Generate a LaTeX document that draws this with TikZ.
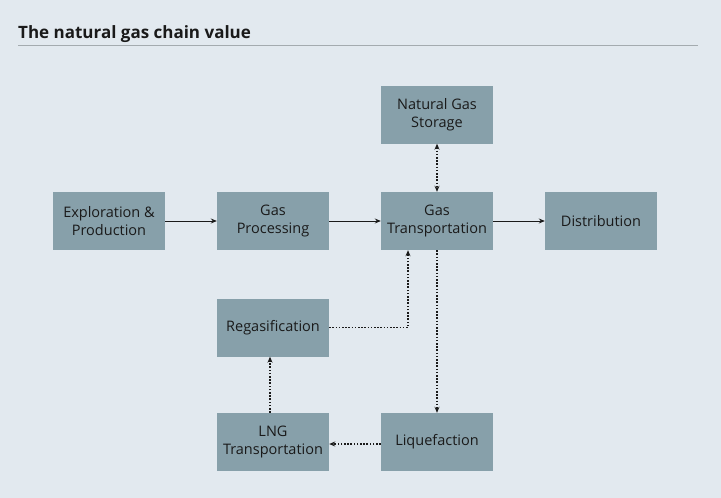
\documentclass[tikz,border=0pt]{standalone}
\usepackage{fontspec}
\setmainfont{Open Sans}
\usetikzlibrary{arrows.meta}

\definecolor{bgcol}{HTML}{E2E9EF}
\definecolor{boxcol}{HTML}{87A0AA}
\definecolor{rulecol}{HTML}{A4ABAF}
\definecolor{txtcol}{HTML}{1A1A1A}

\begin{document}
\begin{tikzpicture}[x=1pt,y=-1pt,
    stage/.style={fill=boxcol,minimum width=112pt,minimum height=58pt,inner sep=0pt,
      align=center,text=txtcol,font=\fontsize{14.5}{18.5}\selectfont},
    flow/.style={-{Stealth[length=6pt,width=5pt]},line width=1pt,txtcol},
    link/.style={flow,line width=1.3pt,dash pattern=on 1.6pt off 1.6pt}]
  \fill[bgcol] (0,0) rectangle (721,498);
  \useasboundingbox (0,0) rectangle (721,498);

  \node[anchor=base west,font=\fontsize{17}{21}\selectfont\bfseries,text=txtcol,inner sep=0pt]
    (title) at (18,38) {The natural gas chain value};
  \draw[rulecol,line width=0.8pt] (18,45) -- (698,45);

  \node[stage] (exploration)	at (109,221)	{Exploration \&\\Production};
  \node[stage] (processing)	at (273,221)	{Gas\\Processing};
  \node[stage] (transport)	at (437,221)	{Gas\\Transportation};
  \node[stage] (distribution)	at (601,221)	{Distribution};

  \node[stage] (storage)	at (437,114.5)	{Natural Gas\\Storage};
  \node[stage] (regas)		at (273,327.5)	{Regasification};
  \node[stage] (lng)		at (273,442)	{LNG\\Transportation};
  \node[stage] (liquefaction)	at (437,442)	{Liquefaction};

  \draw[flow] (exploration.east) -- (processing.west);
  \draw[flow] (processing.east) -- (transport.west);
  \draw[flow] (transport.east) -- (distribution.west);

  \draw[link,{Stealth[length=6pt,width=5pt]}-{Stealth[length=6pt,width=5pt]}] (storage.south) -- (transport.north);
  \draw[link] (regas.east) -| ([xshift=-29pt]transport.south);
  \draw[link] (transport.south) -- (liquefaction.north);
  \draw[link] ([yshift=-2pt]liquefaction.west) -- ([yshift=-2pt]lng.east);
  \draw[link] ([xshift=-3pt]lng.north) -- ([xshift=-3pt]regas.south);
\end{tikzpicture}
\end{document}
